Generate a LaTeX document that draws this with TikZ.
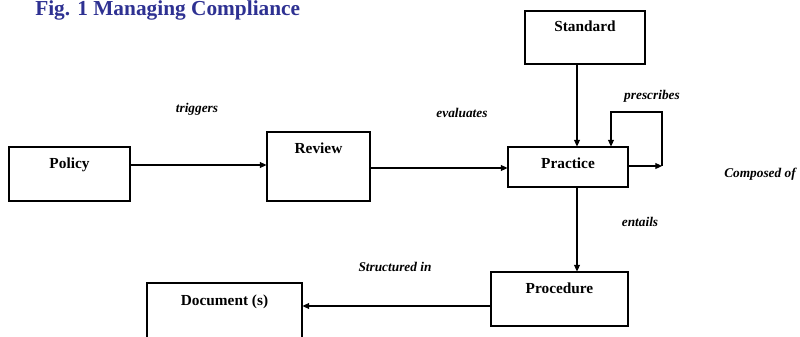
\documentclass[tikz,border=0pt]{standalone}
\usepackage{fontspec}
\setmainfont{Liberation Serif}
\usetikzlibrary{arrows.meta}
\definecolor{titleblue}{RGB}{46,49,146}
\begin{document}
\begin{tikzpicture}[x=0.75pt,y=-0.75pt,
  box/.style={draw, line width=0.8pt, rectangle, inner sep=0pt},
  boxtext/.style={anchor=base, inner sep=0pt, font=\bfseries\fontsize{11.5}{13}\selectfont},
  edgelbl/.style={anchor=base, inner sep=0pt, font=\bfseries\itshape\fontsize{10}{12}\selectfont},
  arr/.style={line width=0.8pt, -{Triangle[length=5pt,width=4.5pt]}},
  ln/.style={line width=0.8pt}]
\clip (0,0) rectangle (800,336);
\fill[white] (0,0) rectangle (800,336);
% title
\node[anchor=base west, inner sep=0pt, text=titleblue, font=\bfseries\fontsize{16}{18}\selectfont] (title) at (35,15) {Fig. 1 Managing Compliance};
% boxes
\node[box, minimum width=90.75pt, minimum height=40.5pt] (policy) at (69.5,174) {};
\node[box, minimum width=77.25pt, minimum height=51.75pt] (review) at (318.5,166.5) {};
\node[box, minimum width=90pt, minimum height=39.75pt] (standard) at (585,37.5) {};
\node[box, minimum width=90pt, minimum height=30pt] (practice) at (568,167) {};
\node[box, minimum width=102.75pt, minimum height=40.5pt] (procedure) at (559.5,299) {};
\node[box, minimum width=116.25pt, minimum height=46.5pt] (document) at (224.5,314) {};
% box texts
\node[boxtext] (policyT) at (69.5,168) {Policy};
\node[boxtext] (reviewT) at (318.5,153) {Review};
\node[boxtext] (standardT) at (585,31) {Standard};
\node[boxtext] (practiceT) at (568,168) {Practice};
\node[boxtext] (procedureT) at (559.5,293) {Procedure};
\node[boxtext] (documentT) at (224.5,305) {Document (s)};
% edge labels
\node[edgelbl] (triggers) at (197,112) {triggers};
\node[edgelbl] (evaluates) at (462,117) {evaluates};
\node[edgelbl] (prescribes) at (652,99) {prescribes};
\node[edgelbl] (composed) at (760,177) {Composed of};
\node[edgelbl] (entails) at (640,226) {entails};
\node[edgelbl] (structured) at (395,271) {Structured in};
% loop coordinates
\coordinate (c1) at (662,166);
\coordinate (ctop) at (611,112);
% connectors
\draw[arr] (policy.east |- 0,165) -- (review.west |- 0,165);
\draw[arr] (review.east |- 0,168) -- (practice.west |- 0,168);
\draw[arr] (standard.south -| 577,0) -- (practice.north -| 577,0);
\draw[arr] (practice.east |- 0,166) -- (c1);
\draw[arr] (c1) |- (ctop) -- (ctop |- practice.north);
\draw[arr] (practice.south -| 577,0) -- (procedure.north -| 577,0);
\draw[arr] (procedure.west |- 0,306) -- (document.east |- 0,306);
\end{tikzpicture}
\end{document}
